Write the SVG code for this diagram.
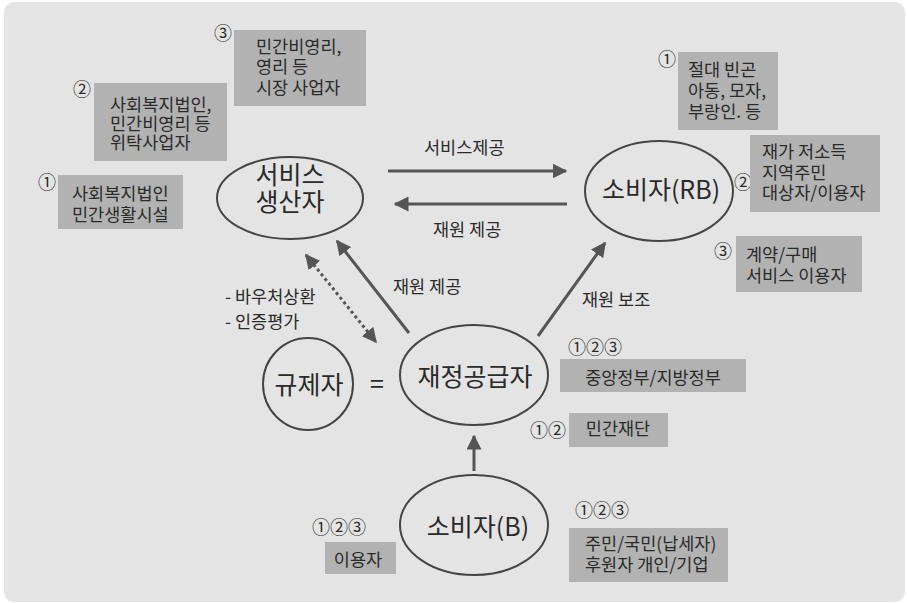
<svg xmlns="http://www.w3.org/2000/svg" width="907" height="603" viewBox="0 0 907 603">
<defs>
<style>
text{font-family:"Noto Sans CJK KR","Noto Sans",sans-serif;fill:#2a2a2a;}
.t{font-size:17.5px;}
.n{font-size:25px;}
.c{font-size:18px;}
.box{fill:#b2b2b2;}
.el{fill:none;stroke:#454545;stroke-width:2;}
.ar{stroke:#555;stroke-width:3;fill:none;}
.dot{stroke:#555;stroke-width:3;fill:none;stroke-dasharray:3 3;}
</style>
<marker id="ah" viewBox="0 0 10 10" refX="9" refY="5" markerWidth="5" markerHeight="5" markerUnits="strokeWidth" orient="auto-start-reverse">
<path d="M0,0 L10,5 L0,10 Z" fill="#555"/>
</marker>
</defs>
<rect x="4" y="2" width="901" height="600" rx="10" fill="#e4e4e4"/>

<g id="connectors">
<line class="ar" x1="388" y1="171" x2="566" y2="171" marker-end="url(#ah)"/>
<line class="ar" x1="567" y1="204" x2="395" y2="204" marker-end="url(#ah)"/>
<line class="ar" x1="409" y1="333" x2="337" y2="241" marker-end="url(#ah)"/>
<line class="ar" x1="538" y1="336" x2="605" y2="243" marker-end="url(#ah)"/>
<line class="ar" x1="474" y1="471" x2="474" y2="436" marker-end="url(#ah)"/>
<line class="dot" x1="306" y1="255" x2="376" y2="342" marker-start="url(#ah)" marker-end="url(#ah)"/>
<text class="t" x="424" y="154">서비스제공</text>
<text class="t" x="433" y="236">재원 제공</text>
<text class="t" x="393" y="293">재원 제공</text>
<text class="t" x="582" y="306">재원 보조</text>
<text class="t" x="225" y="303"><tspan x="225" y="303">- 바우처상환</tspan><tspan x="225" y="328">- 인증평가</tspan></text>
<text class="n" x="377" y="393" text-anchor="middle">=</text>
</g>

<g id="producer">
<ellipse class="el" cx="290" cy="198" rx="73" ry="41"/>
<text class="n" text-anchor="middle"><tspan x="290" y="184">서비스</tspan><tspan x="290" y="211">생산자</tspan></text>
</g>

<g id="consumer-rb">
<ellipse class="el" cx="659" cy="191" rx="74" ry="50"/>
<text class="n" x="661" y="199" text-anchor="middle">소비자(RB)</text>
</g>

<g id="regulator">
<ellipse class="el" cx="308" cy="384" rx="45" ry="46"/>
<text class="n" x="309" y="394" text-anchor="middle">규제자</text>
</g>

<g id="funder">
<ellipse class="el" cx="474" cy="375" rx="74" ry="50"/>
<text class="n" x="475" y="386" text-anchor="middle">재정공급자</text>
</g>

<g id="consumer-b">
<ellipse class="el" cx="474" cy="525" rx="74" ry="50"/>
<text class="n" x="478" y="536" text-anchor="middle">소비자(B)</text>
</g>

<g id="p3">
<text class="c" x="223" y="40" text-anchor="middle">③</text>
<rect class="box" x="234" y="30" width="132" height="76"/>
<text class="t"><tspan x="256" y="53">민간비영리,</tspan><tspan x="256" y="73">영리 등</tspan><tspan x="256" y="94">시장 사업자</tspan></text>
</g>

<g id="p2">
<text class="c" x="82" y="96" text-anchor="middle">②</text>
<rect class="box" x="94" y="83" width="133" height="78"/>
<text class="t"><tspan x="110" y="111">사회복지법인,</tspan><tspan x="110" y="130">민간비영리 등</tspan><tspan x="110" y="149">위탁사업자</tspan></text>
</g>

<g id="p1">
<text class="c" x="47" y="189" text-anchor="middle">①</text>
<rect class="box" x="58" y="175" width="125" height="54"/>
<text class="t"><tspan x="72" y="200">사회복지법인</tspan><tspan x="72" y="221">민간생활시설</tspan></text>
</g>

<g id="rb1">
<text class="c" x="667" y="66" text-anchor="middle">①</text>
<rect class="box" x="678" y="52" width="100" height="78"/>
<text class="t"><tspan x="688" y="76">절대 빈곤</tspan><tspan x="688" y="97">아동, 모자,</tspan><tspan x="688" y="118">부랑인. 등</tspan></text>
</g>

<g id="rb2">
<text class="c" x="743" y="189" text-anchor="middle">②</text>
<rect class="box" x="750" y="135" width="130" height="77"/>
<text class="t"><tspan x="762" y="158">재가 저소득</tspan><tspan x="762" y="179">지역주민</tspan><tspan x="762" y="199">대상자/이용자</tspan></text>
</g>

<g id="rb3">
<text class="c" x="723" y="258" text-anchor="middle">③</text>
<rect class="box" x="736" y="236" width="126" height="56"/>
<text class="t"><tspan x="746" y="261">계약/구매</tspan><tspan x="746" y="282">서비스 이용자</tspan></text>
</g>

<g id="f123">
<text class="c" x="595" y="354" text-anchor="middle">①②③</text>
<rect class="box" x="560" y="359" width="186" height="33"/>
<text class="t" x="653" y="384" text-anchor="middle">중앙정부/지방정부</text>
</g>

<g id="f12">
<text class="c" x="548" y="437" text-anchor="middle">①②</text>
<rect class="box" x="569" y="413" width="99" height="34"/>
<text class="t" x="618" y="435" text-anchor="middle">민간재단</text>
</g>

<g id="b-left">
<text class="c" x="339" y="534" text-anchor="middle">①②③</text>
<rect class="box" x="325" y="542" width="71" height="32"/>
<text class="t" x="358" y="566" text-anchor="middle">이용자</text>
</g>

<g id="b-right">
<text class="c" x="602" y="517" text-anchor="middle">①②③</text>
<rect class="box" x="569" y="528" width="159" height="54"/>
<text class="t"><tspan x="585" y="550">주민/국민(납세자)</tspan><tspan x="585" y="571">후원자 개인/기업</tspan></text>
</g>
</svg>
